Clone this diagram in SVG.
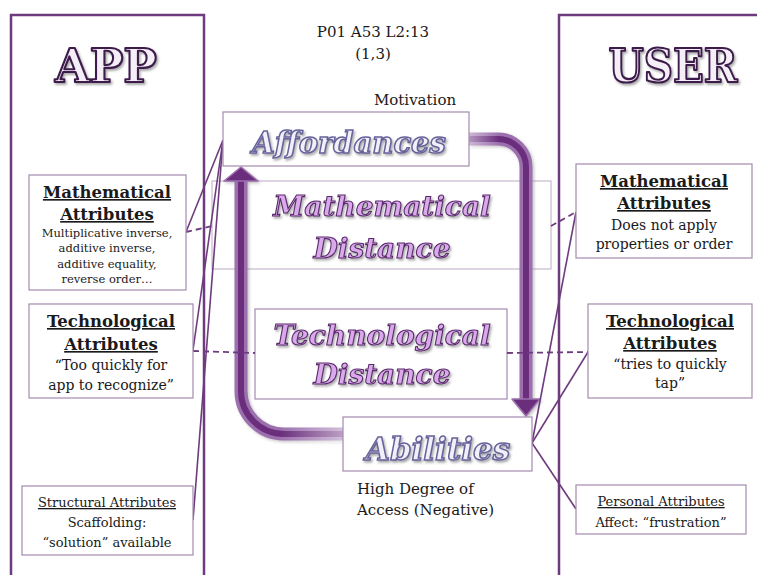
<svg xmlns="http://www.w3.org/2000/svg" width="757" height="575" viewBox="0 0 757 575">
  <defs>
    <filter id="shadow" x="-10%" y="-20%" width="130%" height="150%">
      <feDropShadow dx="1.5" dy="2" stdDeviation="1.2" flood-color="#444" flood-opacity="0.45"/>
    </filter>
    <filter id="tubeShadow" x="-20%" y="-20%" width="140%" height="140%">
      <feDropShadow dx="1.5" dy="1.5" stdDeviation="1.5" flood-color="#666" flood-opacity="0.4"/>
    </filter>
    <!-- fades the tube ends where they meet the boxes -->
    <linearGradient id="fadeRight" x1="0" y1="0" x2="1" y2="0">
      <stop offset="0" stop-color="#ffffff" stop-opacity="0"/>
      <stop offset="1" stop-color="#ffffff" stop-opacity="0.55"/>
    </linearGradient>
    <linearGradient id="fadeLeft" x1="0" y1="0" x2="1" y2="0">
      <stop offset="0" stop-color="#ffffff" stop-opacity="0.5"/>
      <stop offset="1" stop-color="#ffffff" stop-opacity="0"/>
    </linearGradient>
  </defs>
  <style>
    .panel { fill: none; stroke: #6e3c7e; stroke-width: 2.5; }
    .box { fill: #ffffff; stroke: #a58ab0; stroke-width: 1.2; }
    .dbox { fill: #ffffff; stroke: #c9b8cf; stroke-width: 1.2; }
    .link { fill: none; stroke: #6e3c7e; stroke-width: 1.6; }
    .dash { fill: none; stroke: #6e3c7e; stroke-width: 1.8; stroke-dasharray: 6 4; }
    .tubeOuter { fill: none; stroke: #9c6fae; stroke-width: 13; }
    .tubeInner { fill: none; stroke: #6b2d7c; stroke-width: 6; }
    .head { fill: #6b2d7c; stroke: #9c6fae; stroke-width: 1.5; stroke-linejoin: round; }
    .big { font-family: "DejaVu Serif", serif; font-weight: bold; font-size: 47px; fill: #f4eff7; stroke: #3e1a4c; stroke-width: 2.2; stroke-linejoin: round; text-anchor: middle; }
    .core { font-family: "DejaVu Serif", serif; font-weight: bold; font-style: italic; fill: #f1f0fa; stroke: #66629a; stroke-width: 1.5; text-anchor: middle; }
    .dist { font-family: "DejaVu Serif", serif; font-weight: bold; font-style: italic; font-size: 28px; fill: #d9a9ec; stroke: #5a2a6b; stroke-width: 1.1; text-anchor: middle; }
    .serif { font-family: "DejaVu Serif", serif; fill: #1a1a1a; }
    .mid { text-anchor: middle; }
    .head16 { font-family: "DejaVu Serif", serif; font-weight: bold; font-size: 16.5px; fill: #1a1a1a; text-anchor: middle; text-decoration: underline; }
  </style>

  <!-- side panels -->
  <g id="app-panel">
    <path class="panel" d="M11,580 V15 H204 V580"/>
    <text class="big" x="106" y="82" textLength="102" lengthAdjust="spacingAndGlyphs" filter="url(#shadow)">APP</text>
  </g>
  <g id="user-panel">
    <path class="panel" d="M559,580 V15 H760"/>
    <text class="big" x="673" y="82" textLength="129" lengthAdjust="spacingAndGlyphs" filter="url(#shadow)">USER</text>
  </g>

  <!-- header -->
  <g id="header">
    <text class="serif mid" x="373" y="37" font-size="15">P01 A53 L2:13</text>
    <text class="serif mid" x="373" y="59" font-size="15">(1,3)</text>
  </g>

  <!-- distance boxes (behind the cycle arrows) -->
  <g id="math-distance">
    <rect class="dbox" x="212" y="181" width="339" height="88"/>
    <text class="dist" x="382" y="216" filter="url(#shadow)">Mathematical</text>
    <text class="dist" x="382" y="258" filter="url(#shadow)">Distance</text>
  </g>
  <g id="tech-distance">
    <rect class="box" x="255" y="309" width="252" height="90"/>
    <text class="dist" x="382" y="345" filter="url(#shadow)">Technological</text>
    <text class="dist" x="382" y="384" filter="url(#shadow)">Distance</text>
  </g>

  <!-- connectors -->
  <g id="connectors">
    <!-- cycle arrows -->
    <g filter="url(#tubeShadow)">
      <path class="tubeOuter" d="M469,139 H498 A28,28 0 0 1 526,167 V400"/>
      <path class="tubeInner" d="M469,139 H498 A28,28 0 0 1 526,167 V400"/>
      <polygon class="head" points="512,399 540,399 526,416"/>
      <path class="tubeOuter" d="M343,434 H284 A43,43 0 0 1 241,391 V181"/>
      <path class="tubeInner" d="M343,434 H284 A43,43 0 0 1 241,391 V181"/>
      <polygon class="head" points="224,181 258,181 241,167"/>
    </g>
    <rect x="469" y="131" width="30" height="17" fill="url(#fadeLeft)"/>
    <rect x="280" y="426" width="63" height="17" fill="url(#fadeRight)"/>
    <!-- app side links -->
    <path class="link" d="M223,140 L186,232"/>
    <path class="link" d="M223,140 L193,350"/>
    <path class="link" d="M223,140 L193,520"/>
    <path class="dash" d="M186,232 L212,226"/>
    <path class="dash" d="M193,351 L255,353"/>
    <!-- user side links -->
    <path class="link" d="M532,443 L576,212"/>
    <path class="link" d="M532,443 L588,352"/>
    <path class="link" d="M532,443 L576,509"/>
    <path class="dash" d="M551,226 L576,212"/>
    <path class="dash" d="M507,353 L588,352"/>
  </g>

  <!-- cycle endpoints -->
  <g id="affordances">
    <text class="serif mid" x="415" y="105" font-size="15">Motivation</text>
    <rect class="box" x="223" y="112" width="246" height="54"/>
    <text class="core" x="349" y="153" font-size="29" filter="url(#shadow)">Affordances</text>
  </g>
  <g id="abilities">
    <rect class="box" x="343" y="417" width="189" height="54"/>
    <text class="core" x="438" y="460" font-size="31" filter="url(#shadow)">Abilities</text>
    <text class="serif" x="357" y="494" font-size="15">High Degree of</text>
    <text class="serif" x="357" y="515" font-size="15">Access (Negative)</text>
  </g>

  <!-- app attributes -->
  <g id="app-math-attributes">
    <rect class="box" x="29" y="175" width="157" height="115"/>
    <text class="head16" x="107" y="198">Mathematical</text>
    <text class="head16" x="107" y="220">Attributes</text>
    <text class="serif mid" x="107" y="237" font-size="11.5">Multiplicative inverse,</text>
    <text class="serif mid" x="107" y="252" font-size="11.5">additive inverse,</text>
    <text class="serif mid" x="107" y="268" font-size="11.5">additive equality,</text>
    <text class="serif mid" x="107" y="283" font-size="11.5">reverse order…</text>
  </g>
  <g id="app-tech-attributes">
    <rect class="box" x="29" y="304" width="164" height="94"/>
    <text class="head16" x="111" y="327">Technological</text>
    <text class="head16" x="111" y="350">Attributes</text>
    <text class="serif mid" x="111" y="370" font-size="14">“Too quickly for</text>
    <text class="serif mid" x="111" y="390" font-size="14">app to recognize”</text>
  </g>
  <g id="app-structural-attributes">
    <rect class="box" x="22" y="486" width="171" height="69"/>
    <text class="serif mid" x="107" y="507" font-size="13" text-decoration="underline">Structural Attributes</text>
    <text class="serif mid" x="107" y="527" font-size="13">Scaffolding:</text>
    <text class="serif mid" x="107" y="547" font-size="13">“solution” available</text>
  </g>

  <!-- user attributes -->
  <g id="user-math-attributes">
    <rect class="box" x="576" y="164" width="176" height="94"/>
    <text class="head16" x="664" y="187">Mathematical</text>
    <text class="head16" x="664" y="209">Attributes</text>
    <text class="serif mid" x="664" y="230" font-size="14">Does not apply</text>
    <text class="serif mid" x="664" y="249" font-size="14">properties or order</text>
  </g>
  <g id="user-tech-attributes">
    <rect class="box" x="588" y="304" width="164" height="94"/>
    <text class="head16" x="670" y="327">Technological</text>
    <text class="head16" x="670" y="349">Attributes</text>
    <text class="serif mid" x="670" y="369" font-size="14">“tries to quickly</text>
    <text class="serif mid" x="670" y="388" font-size="14">tap”</text>
  </g>
  <g id="user-personal-attributes">
    <rect class="box" x="576" y="485" width="170" height="49"/>
    <text class="serif mid" x="661" y="506" font-size="13" text-decoration="underline">Personal Attributes</text>
    <text class="serif mid" x="661" y="527" font-size="13">Affect: “frustration”</text>
  </g>
</svg>
